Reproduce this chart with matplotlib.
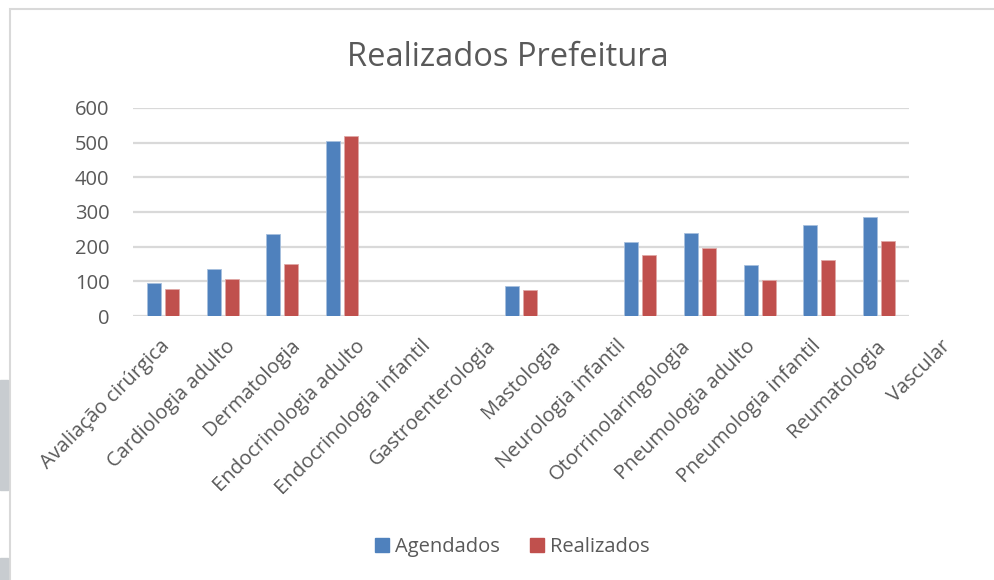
import matplotlib.pyplot as plt
import numpy as np
from matplotlib.patches import Rectangle
from matplotlib.transforms import blended_transform_factory

plt.rcParams['font.family'] = ['Open Sans', 'DejaVu Sans']

categories = ['Avaliação cirúrgica', 'Cardiologia adulto', 'Dermatologia',
              'Endocrinologia adulto', 'Endocrinologia infantil',
              'Gastroenterologia', 'Mastologia', 'Neurologia infantil',
              'Otorrinolaringologia', 'Pneumologia adulto',
              'Pneumologia infantil', 'Reumatologia', 'Vascular']
agendados = [96, 135, 237, 506, 0, 0, 86, 0, 213, 239, 146, 262, 286]
realizados = [77, 106, 150, 518, 0, 0, 74, 0, 175, 197, 104, 162, 216]
yticks = [0, 100, 200, 300, 400, 500, 600]

txt = '#595959'
fig = plt.figure(figsize=(9.94, 5.8), dpi=100)
ax = fig.add_axes([133 / 994, 1 - 316 / 580, 776 / 994, 208 / 580])

x = np.arange(len(categories))
w = 0.235
off = 0.151
ax.bar(x - off, agendados, w, color='#4F81BD', edgecolor='#a7c0de', linewidth=0.6, zorder=3)
ax.bar(x + off, realizados, w, color='#C0504D', edgecolor='#e0a8a6', linewidth=0.6, zorder=3)

ax.set_xlim(-0.5, len(categories) - 0.5)
ax.set_ylim(0, 600)
ax.set_yticks(yticks)
ax.yaxis.grid(True, color='#d9d9d9', linewidth=1.6, zorder=0)
for s in ax.spines.values():
    s.set_visible(False)
ax.tick_params(axis='both', length=0, colors=txt, labelsize=14.5)
ax.tick_params(axis='y', pad=17)
ax.set_xticks(x)
ax.set_xticklabels([])

# category labels: Excel spreads them a little wider than the bars
trans = blended_transform_factory(ax.transData, ax.transAxes)
for i, name in enumerate(categories):
    ax.text(-0.047 + 1.09 * i, -0.096, name, transform=trans, rotation=45,
            ha='right', va='top', rotation_mode='anchor', fontsize=14.5,
            color=txt, clip_on=False)

fig.text(508 / 994, 1 - 57 / 580, 'Realizados Prefeitura', ha='center', va='center',
         fontsize=23.5, color=txt)

h1 = Rectangle((0, 0), 1, 1, color='#4F81BD')
h2 = Rectangle((0, 0), 1, 1, color='#C0504D')
fig.legend([h1, h2], ['Agendados', 'Realizados'], loc='center',
           bbox_to_anchor=(512 / 994, 1 - 547 / 580), ncol=2, frameon=False,
           fontsize=14.5, labelcolor=txt, handlelength=0.7, handleheight=0.7,
           handletextpad=0.3, columnspacing=1.5)

# chart frame and screenshot background strips
fig.patches.append(Rectangle((9.5 / 994, -0.1), 1.2, 1 - 9.5 / 580 + 0.1,
                             transform=fig.transFigure, fill=False,
                             edgecolor='#d9d9d9', linewidth=1.5))
fig.patches.append(Rectangle((0, 1 - 490 / 580), 8 / 994, 110 / 580,
                             transform=fig.transFigure, color='#c8ccd0'))
fig.patches.append(Rectangle((0, 0), 8 / 994, 22 / 580,
                             transform=fig.transFigure, color='#c8ccd0'))

fig.savefig('out.png', dpi=100)
